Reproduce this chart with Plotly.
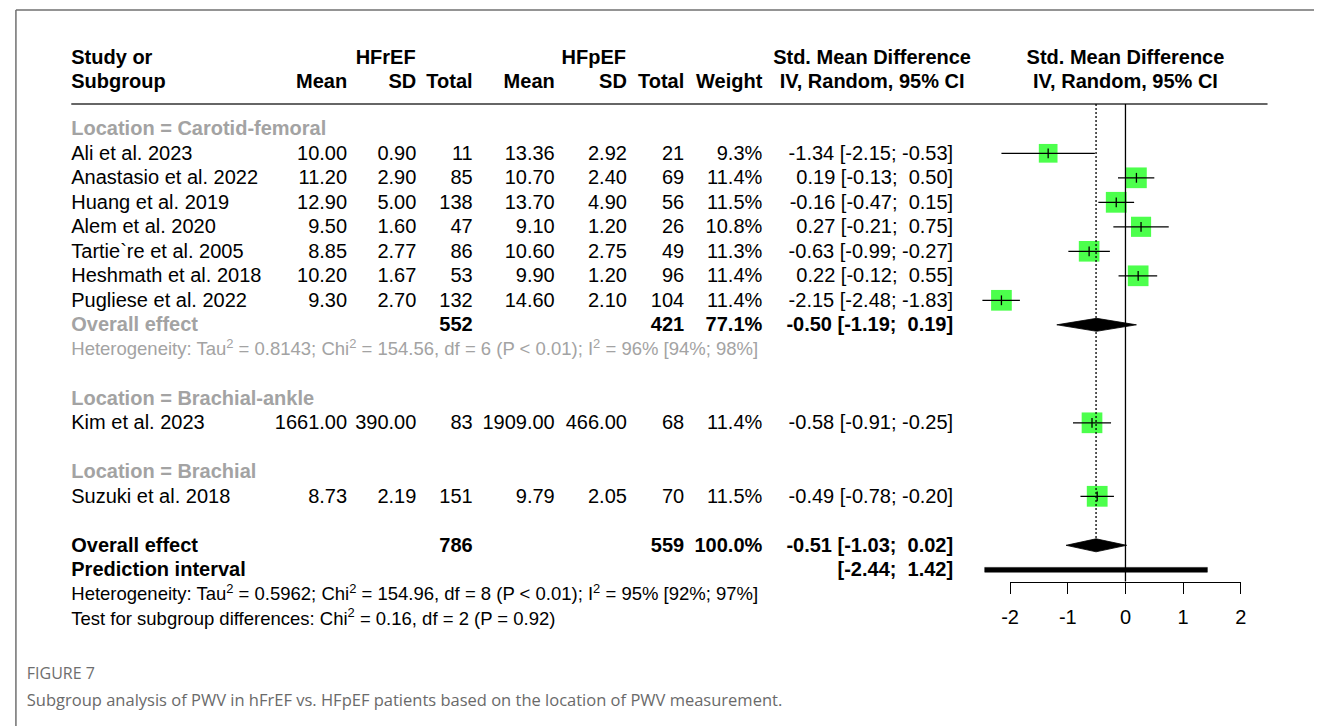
import math
import plotly.graph_objects as go

# ---------------- data ----------------
studies = ["Ali et al. 2023", "Anastasio et al. 2022", "Huang et al. 2019", "Alem et al. 2020",
           "Tartie`re et al. 2005", "Heshmath et al. 2018", "Pugliese et al. 2022",
           "Kim et al. 2023", "Suzuki et al. 2018"]
locations = ["Carotid-femoral"] * 7 + ["Brachial-ankle", "Brachial"]
mean_hfref = [10.00, 11.20, 12.90, 9.50, 8.85, 10.20, 9.30, 1661.00, 8.73]
sd_hfref = [0.90, 2.90, 5.00, 1.60, 2.77, 1.67, 2.70, 390.00, 2.19]
n_hfref = [11, 85, 138, 47, 86, 53, 132, 83, 151]
mean_hfpef = [13.36, 10.70, 13.70, 9.10, 10.60, 9.90, 14.60, 1909.00, 9.79]
sd_hfpef = [2.92, 2.40, 4.90, 1.20, 2.75, 1.20, 2.10, 466.00, 2.05]
n_hfpef = [21, 69, 56, 26, 49, 96, 104, 68, 70]
weight = [9.3, 11.4, 11.5, 10.8, 11.3, 11.4, 11.4, 11.4, 11.5]
smd = [-1.34, 0.19, -0.16, 0.27, -0.63, 0.22, -2.15, -0.58, -0.49]
smd_lo = [-2.15, -0.13, -0.47, -0.21, -0.99, -0.12, -2.48, -0.91, -0.78]
smd_hi = [-0.53, 0.50, 0.15, 0.75, -0.27, 0.55, -1.83, -0.25, -0.20]

# subgroup summary (only groups with more than one study)
sub_location = ["Carotid-femoral"]
sub_n_hfref = [552]
sub_n_hfpef = [421]
sub_weight = [77.1]
sub_smd = [-0.50]
sub_lo = [-1.19]
sub_hi = [0.19]
sub_het = ["Heterogeneity: Tau<sup>2</sup> = 0.8143; Chi<sup>2</sup> = 154.56, df = 6 (P < 0.01); "
           "I<sup>2</sup> = 96% [94%; 98%]"]

# overall summary
tot_n_hfref = 786
tot_n_hfpef = 559
tot_weight = 100.0
tot_smd = -0.51
tot_lo = -1.03
tot_hi = 0.02
pred_lo = -2.44
pred_hi = 1.42
tot_het = ("Heterogeneity: Tau<sup>2</sup> = 0.5962; Chi<sup>2</sup> = 154.96, df = 8 (P < 0.01); "
           "I<sup>2</sup> = 95% [92%; 97%]")
sub_test = "Test for subgroup differences: Chi<sup>2</sup> = 0.16, df = 2 (P = 0.92)"

tick_values = [-2, -1, 0, 1, 2]
tick_labels = ["-2", "-1", "0", "1", "2"]

caption_label = "FIGURE 7"
caption_text = ("Subgroup analysis of PWV in hFrEF vs. HFpEF patients based on the location "
                "of PWV measurement.")

# ---------------- geometry ----------------
W, H = 1320, 726
X0, UNIT = 1129.3, 58.35      # pixel of SMD = 0 and pixels per SMD unit
Y0, ROW = 128.8, 24.5         # pixel centre of the first table row and row pitch
FONT = "Liberation Sans, Arial, Helvetica, sans-serif"
CAP_FONT = "Open Sans, Noto Sans, sans-serif"
FS = 20          # table text
FS_STAT = 18.5   # heterogeneity / subgroup test lines
GRAY = "#a3a3a3"
GREEN = "#00ff00"
NB = "\u00a0"

# column right edges (pixels)
C_LEFT = 63
C_MR, C_SR, C_NR = 342, 412, 469
C_MP, C_SP, C_NP = 552, 625, 683
C_W, C_CI = 762, 955

# text items grouped by style -> one text trace per style
text_groups = {}
POS = {"left": "middle right", "right": "middle left", "center": "middle center"}


def txt(x, row, s, anchor="right", bold=False, color="black", size=FS, axis="x2", font=FONT):
    key = (anchor, size, color, axis, font)
    g = text_groups.setdefault(key, {"x": [], "y": [], "t": []})
    g["x"].append(x)
    g["y"].append(row + 0.08 * size / ROW)
    g["t"].append(f"<b>{s}</b>" if bold else s)


def fnum(v):
    return (NB if v >= 0 else "") + f"{v:.2f}"


def ci_text(est, lo, hi):
    return f"{est:.2f} [{fnum(lo)};{NB}{fnum(hi)}]"


def px_to_row(p):
    return (p - Y0) / ROW


# ---------------- row layout ----------------
study_rows = []
sub_rows = {}
row = 0
for loc in dict.fromkeys(locations):
    txt(C_LEFT, row, f"Location = {loc}", anchor="left", bold=True, color=GRAY)
    row += 1
    for i, l in enumerate(locations):
        if l == loc:
            study_rows.append(row)
            row += 1
    if loc in sub_location:
        sub_rows[loc] = row
        row += 2
    row += 1
overall_row = row
pred_row = row + 1
het_row = row + 2
test_row = row + 3

# ---------------- header ----------------
hdr1, hdr2 = px_to_row(57), px_to_row(81.5)
txt(C_LEFT, hdr1, "Study or", anchor="left", bold=True)
txt(C_LEFT, hdr2, "Subgroup", anchor="left", bold=True)
txt((293 + C_NR) / 2, hdr1, "HFrEF", anchor="center", bold=True)
txt((500 + C_NP) / 2, hdr1, "HFpEF", anchor="center", bold=True)
for xpx, s in [(C_MR, "Mean"), (C_SR, "SD"), (C_NR, "Total"), (C_MP, "Mean"),
               (C_SP, "SD"), (C_NP, "Total"), (C_W, "Weight")]:
    txt(xpx, hdr2, s, bold=True)
txt(873, hdr1, "Std. Mean Difference", anchor="center", bold=True)
txt(873, hdr2, "IV, Random, 95% CI", anchor="center", bold=True)
mid = (tick_values[0] + tick_values[-1]) / 2
txt(mid, hdr1, "Std. Mean Difference", anchor="center", bold=True, axis="x")
txt(mid, hdr2, "IV, Random, 95% CI", anchor="center", bold=True, axis="x")

# ---------------- study rows ----------------
for i, r in enumerate(study_rows):
    txt(C_LEFT, r, studies[i], anchor="left")
    txt(C_MR, r, f"{mean_hfref[i]:.2f}")
    txt(C_SR, r, f"{sd_hfref[i]:.2f}")
    txt(C_NR, r, f"{n_hfref[i]}")
    txt(C_MP, r, f"{mean_hfpef[i]:.2f}")
    txt(C_SP, r, f"{sd_hfpef[i]:.2f}")
    txt(C_NP, r, f"{n_hfpef[i]}")
    txt(C_W, r, f"{weight[i]:.1f}%")
    txt(C_CI, r, ci_text(smd[i], smd_lo[i], smd_hi[i]))

# ---------------- subgroup summaries ----------------
for j, loc in enumerate(sub_location):
    r = sub_rows[loc]
    txt(C_LEFT, r, "Overall effect", anchor="left", bold=True, color=GRAY)
    txt(C_NR, r, f"{sub_n_hfref[j]}", bold=True)
    txt(C_NP, r, f"{sub_n_hfpef[j]}", bold=True)
    txt(C_W, r, f"{sub_weight[j]:.1f}%", bold=True)
    txt(C_CI, r, ci_text(sub_smd[j], sub_lo[j], sub_hi[j]), bold=True)
    txt(C_LEFT, r + 1, sub_het[j], anchor="left", color=GRAY, size=FS_STAT)

# ---------------- overall ----------------
txt(C_LEFT, overall_row, "Overall effect", anchor="left", bold=True)
txt(C_NR, overall_row, f"{tot_n_hfref}", bold=True)
txt(C_NP, overall_row, f"{tot_n_hfpef}", bold=True)
txt(C_W, overall_row, f"{tot_weight:.1f}%", bold=True)
txt(C_CI, overall_row, ci_text(tot_smd, tot_lo, tot_hi), bold=True)
txt(C_LEFT, pred_row, "Prediction interval", anchor="left", bold=True)
txt(C_CI, pred_row, f"[{fnum(pred_lo)};{NB}{fnum(pred_hi)}]", bold=True)
txt(C_LEFT, het_row, tot_het, anchor="left", size=FS_STAT)
txt(C_LEFT, test_row, sub_test, anchor="left", size=FS_STAT)

# caption
txt(18, px_to_row(674), caption_label, anchor="left", size=16, color="#6e6e6e", font=CAP_FONT)
txt(18, px_to_row(701), caption_text, anchor="left", size=16.5, color="#6a6a6a", font=CAP_FONT)

# ---------------- forest marks ----------------
fig = go.Figure()

# squares sized by weight
fig.add_trace(go.Scatter(
    x=smd, y=study_rows, mode="markers", hoverinfo="skip",
    marker=dict(symbol="square", color=GREEN, size=[6.13 * math.sqrt(w) for w in weight],
                line=dict(width=0))))

# confidence intervals
cx, cy = [], []
for i, r in enumerate(study_rows):
    cx += [smd_lo[i], smd_hi[i], None]
    cy += [r, r, None]
fig.add_trace(go.Scatter(x=cx, y=cy, mode="lines", hoverinfo="skip",
                         line=dict(color="black", width=1.3)))
fig.add_trace(go.Scatter(x=smd, y=study_rows, mode="markers", hoverinfo="skip",
                         marker=dict(symbol="line-ns", size=7, color="black",
                                     line=dict(width=1.3, color="black"))))

# diamonds
DH = 6.5 / ROW
diamonds = [(sub_rows[l], sub_smd[j], sub_lo[j], sub_hi[j]) for j, l in enumerate(sub_location)]
diamonds.append((overall_row, tot_smd, tot_lo, tot_hi))
for r, est, lo, hi in diamonds:
    fig.add_trace(go.Scatter(x=[lo, est, hi, est, lo], y=[r, r - DH, r, r + DH, r],
                             mode="lines", fill="toself", fillcolor="black", hoverinfo="skip",
                             line=dict(color="black", width=0.8)))

# prediction interval bar
PH = 2.4 / ROW
fig.add_trace(go.Scatter(x=[pred_lo, pred_hi, pred_hi, pred_lo, pred_lo],
                         y=[pred_row - PH, pred_row - PH, pred_row + PH, pred_row + PH, pred_row - PH],
                         mode="lines", fill="toself", fillcolor="black", hoverinfo="skip",
                         line=dict(color="black", width=0.5)))

# table text
for (anchor, size, color, axis, font), g in text_groups.items():
    fig.add_trace(go.Scatter(x=g["x"], y=g["y"], text=g["t"], mode="text", xaxis=axis,
                             textposition=POS[anchor], hoverinfo="skip", cliponaxis=False,
                             textfont=dict(family=font, size=size, color=color)))

# empty trace to host the SMD axis
fig.add_trace(go.Scatter(x=[], y=[], xaxis="x3", yaxis="y3", showlegend=False))

HEAD_Y = 104
AXIS_Y = 581.5


def py(p):
    return 1 - p / H


shapes = []
# frame, header rule, reference lines
shapes.append(dict(type="line", xref="paper", yref="paper", x0=7 / W, x1=1, y0=py(10), y1=py(10),
                   line=dict(color="#707070", width=1.5)))
shapes.append(dict(type="line", xref="paper", yref="paper", x0=7 / W, x1=7 / W, y0=0, y1=py(10),
                   line=dict(color="#707070", width=1.5)))
shapes.append(dict(type="line", xref="paper", yref="paper", x0=C_LEFT / W, x1=1273 / W,
                   y0=py(HEAD_Y), y1=py(HEAD_Y), line=dict(color="#333333", width=1.5)))
shapes.append(dict(type="line", xref="x", yref="paper", x0=0, x1=0, y0=py(HEAD_Y), y1=py(AXIS_Y),
                   line=dict(color="black", width=1.3)))
shapes.append(dict(type="line", xref="x", yref="paper", x0=tot_smd, x1=tot_smd,
                   y0=py(HEAD_Y), y1=py(Y0 + ROW * overall_row - 6.5),
                   line=dict(color="black", width=1.3, dash="2px,2px")))

fig.update_layout(
    width=W, height=H, margin=dict(l=0, r=0, t=0, b=0),
    paper_bgcolor="white", plot_bgcolor="rgba(0,0,0,0)", showlegend=False,
    xaxis=dict(range=[-X0 / UNIT, (W - X0) / UNIT], domain=[0, 1], visible=False, fixedrange=True),
    xaxis2=dict(range=[0, W], overlaying="x", visible=False, fixedrange=True),
    yaxis=dict(range=[(H - Y0) / ROW, -Y0 / ROW], domain=[0, 1], visible=False, fixedrange=True),
    xaxis3=dict(range=[tick_values[0], tick_values[-1]],
                domain=[(X0 + tick_values[0] * UNIT) / W, (X0 + tick_values[-1] * UNIT) / W],
                anchor="y3", showline=True, linecolor="black", linewidth=1.3,
                ticks="outside", ticklen=11, tickwidth=1.3, tickcolor="black",
                tickvals=tick_values, ticktext=tick_labels, showgrid=False, zeroline=False,
                tickfont=dict(family=FONT, size=FS, color="black"), ticklabelstandoff=6),
    yaxis3=dict(domain=[py(AXIS_Y), py(AXIS_Y) + 0.01], visible=False, anchor="x3"),
    shapes=shapes,
)

fig.write_html("out.html")
